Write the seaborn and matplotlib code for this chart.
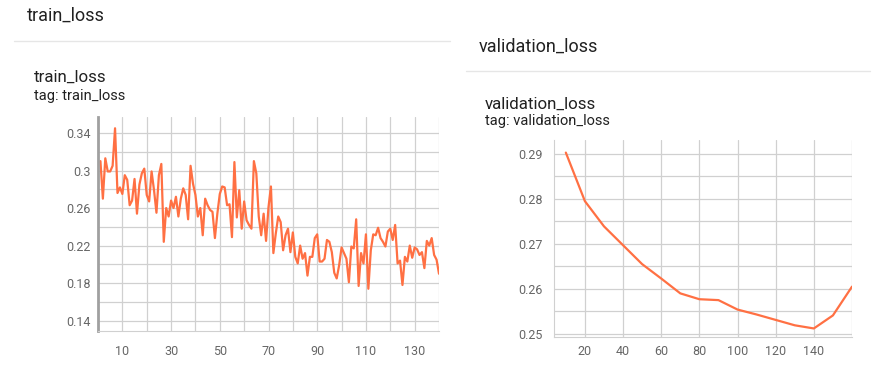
import numpy as np
import pandas as pd
import matplotlib.pyplot as plt
import seaborn as sns

# train loss per step
train_steps = list(range(1, 141))
train_loss = [
    0.310, 0.270, 0.313, 0.299, 0.299, 0.305, 0.345, 0.276, 0.282, 0.275,
    0.295, 0.290, 0.263, 0.268, 0.291, 0.254, 0.285, 0.297, 0.302, 0.274,
    0.267, 0.299, 0.279, 0.255, 0.295, 0.307, 0.224, 0.260, 0.251, 0.268,
    0.260, 0.272, 0.251, 0.270, 0.281, 0.274, 0.248, 0.305, 0.286, 0.274,
    0.251, 0.260, 0.231, 0.270, 0.263, 0.258, 0.256, 0.228, 0.254, 0.275,
    0.283, 0.282, 0.263, 0.264, 0.229, 0.309, 0.250, 0.279, 0.238, 0.267,
    0.247, 0.242, 0.238, 0.310, 0.297, 0.251, 0.231, 0.254, 0.225, 0.261,
    0.283, 0.212, 0.233, 0.251, 0.245, 0.215, 0.231, 0.238, 0.213, 0.234,
    0.208, 0.201, 0.220, 0.206, 0.212, 0.188, 0.208, 0.208, 0.228, 0.232,
    0.203, 0.203, 0.206, 0.226, 0.224, 0.213, 0.191, 0.185, 0.199, 0.218,
    0.212, 0.206, 0.181, 0.219, 0.217, 0.248, 0.177, 0.212, 0.201, 0.232,
    0.174, 0.215, 0.232, 0.231, 0.239, 0.228, 0.224, 0.219, 0.235, 0.238,
    0.226, 0.242, 0.201, 0.204, 0.178, 0.208, 0.203, 0.220, 0.207, 0.218,
    0.216, 0.210, 0.213, 0.196, 0.225, 0.220, 0.228, 0.210, 0.205, 0.190,
]

# validation loss every 10 steps
val_steps = [10, 20, 30, 40, 50, 60, 70, 80, 90, 100, 110, 120, 130, 140, 150, 160]
val_loss = [0.2903, 0.2795, 0.2739, 0.2697, 0.2655, 0.2623, 0.2590, 0.2577,
            0.2575, 0.2554, 0.2543, 0.2531, 0.2519, 0.2512, 0.2541, 0.2605]

df_train = pd.DataFrame({'step': train_steps, 'loss': train_loss})
df_val = pd.DataFrame({'step': val_steps, 'loss': val_loss})

sns.set_style('white')
plt.rcParams['font.family'] = ['Roboto', 'DejaVu Sans']

orange = '#ff7043'
grid_c = '#d0d0d0'
tick_c = '#666666'
text_c = '#212121'

fig = plt.figure(figsize=(8.88, 3.78), dpi=100)

# section headers and dividers
fig.text(27 / 888, 1 - 16 / 378, 'train_loss', fontsize=13, color=text_c, va='center')
fig.add_artist(plt.Line2D([14 / 888, 450 / 888], [1 - 41 / 378] * 2, color='#e6e6e6', lw=1))
fig.text(34 / 888, 1 - 77 / 378, 'train_loss', fontsize=12.2, color=text_c, va='center')
fig.text(34 / 888, 1 - 96 / 378, 'tag: train_loss', fontsize=10.5, color=text_c, va='center')

fig.text(479 / 888, 1 - 47 / 378, 'validation_loss', fontsize=13, color=text_c, va='center')
fig.add_artist(plt.Line2D([466 / 888, 870 / 888], [1 - 71 / 378] * 2, color='#e6e6e6', lw=1))
fig.text(485 / 888, 1 - 104 / 378, 'validation_loss', fontsize=12.2, color=text_c, va='center')
fig.text(485 / 888, 1 - 121 / 378, 'tag: validation_loss', fontsize=10.5, color=text_c, va='center')

# train chart
ax1 = fig.add_axes([98 / 888, 1 - 331 / 378, 341 / 888, 214 / 378])
sns.lineplot(data=df_train, x='step', y='loss', ax=ax1, color=orange, lw=1.6)
ax1.set_xlim(0, 140)
ax1.set_ylim(0.129, 0.357)
ax1.set_xticks(np.arange(0, 141, 10), minor=True)
ax1.set_xticks(np.arange(10, 140, 20))
ax1.set_yticks(np.arange(0.14, 0.36, 0.02), minor=True)
ax1.set_yticks([0.14, 0.18, 0.22, 0.26, 0.3, 0.34])
ax1.set_yticklabels(['0.14', '0.18', '0.22', '0.26', '0.3', '0.34'])
ax1.grid(True, which='both', color=grid_c, lw=0.9)
ax1.spines[['top', 'right']].set_visible(False)
ax1.spines['left'].set_color('#a0a0a0')
ax1.spines['left'].set_linewidth(2)
ax1.spines['bottom'].set_color(grid_c)
ax1.tick_params(axis='x', pad=10)
ax1.tick_params(axis='y', pad=5)

# validation chart
ax2 = fig.add_axes([554 / 888, 1 - 337 / 378, 298 / 888, 197 / 378])
sns.lineplot(data=df_val, x='step', y='loss', ax=ax2, color=orange, lw=1.6)
ax2.set_xlim(3.8, 160)
ax2.set_ylim(0.2493, 0.2931)
ax2.set_xticks(np.arange(20, 161, 20))
ax2.set_xticklabels(['20', '40', '60', '80', '100', '120', '140', ''])
ax2.set_yticks(np.arange(0.25, 0.2931, 0.005), minor=True)
ax2.set_yticks([0.25, 0.26, 0.27, 0.28, 0.29])
ax2.grid(True, which='both', color=grid_c, lw=0.9)
ax2.spines[['top', 'right']].set_visible(False)
ax2.spines[['left', 'bottom']].set_color(grid_c)
ax2.tick_params(axis='x', pad=6)
ax2.tick_params(axis='y', pad=8)

for ax in (ax1, ax2):
    ax.set_xlabel('')
    ax.set_ylabel('')
    ax.tick_params(which='both', length=0, labelsize=9, colors=tick_c)

fig.savefig('out.png', dpi=100)
